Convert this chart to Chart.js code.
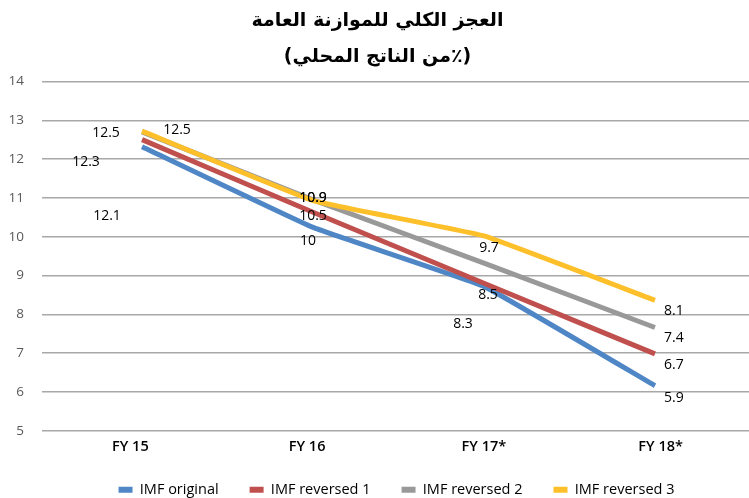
<!DOCTYPE html>
<html>
<head>
<meta charset="utf-8">
<script src="https://cdn.jsdelivr.net/npm/chart.js@4.4.1/dist/chart.umd.min.js"></script>
<style>
  html, body { margin: 0; padding: 0; background: #fff; }
  #wrap { width: 749px; height: 498px; }
</style>
</head>
<body>
<div id="wrap"><canvas id="deficit"></canvas></div>
<script>
const categories = ["FY 15", "FY 16", "FY 17*", "FY 18*"];
const seriesNames = ["IMF original", "IMF reversed 1", "IMF reversed 2", "IMF reversed 3"];

// line positions
const imfOriginal = [12.32, 10.24, 8.72, 6.16];
const imfReversed1 = [12.5, 10.63, 8.8, 6.98];
const imfReversed2 = [12.7, 10.95, 9.32, 7.66];
const imfReversed3 = [12.72, 10.93, 10.02, 8.36];

// printed value labels
const labelsOriginal = [12.1, 10, 8.3, 5.9];
const labelsReversed1 = [12.3, 10.5, 8.5, 6.7];
const labelsReversed2 = [12.5, 10.9, null, 7.4];
const labelsReversed3 = [12.5, 10.9, 9.7, 8.1];

const yTicks = [5, 6, 7, 8, 9, 10, 11, 12, 13, 14];

// small pixel nudges for the labels (x, y)
const labelNudge = [
  [[-35, 61], [-5, 4], [-21, 21], [19, 2]],
  [[-56, 15], [0, -1], [4, 0], [19, 0]],
  [[-36, -7], [0, -4], [0, 0], [19, 0]],
  [[35, -10], [0, -4], [5, 0], [19, 1]]
];

const valueLabels = {
  id: "valueLabels",
  afterLayout(chart) {
    // legend in the original sits a bit right of centre
    chart.legend.left += 38;
    // let the category labels spill below the squeezed axis box
    chart.scales.x.bottom += 20;
  },
  afterDatasetsDraw(chart) {
    const { ctx, scales: { xl, y } } = chart;
    ctx.save();
    ctx.font = "14px 'Open Sans'";
    ctx.fillStyle = "#000";
    ctx.textAlign = "center";
    ctx.textBaseline = "middle";
    chart.data.datasets.forEach((ds, i) => {
      ds.valueLabels.forEach((v, j) => {
        if (v == null) return;
        const n = labelNudge[i][j];
        ctx.fillText(String(v), xl.getPixelForValue(j) + n[0], y.getPixelForValue(v) + n[1]);
      });
    });
    ctx.restore();
  }
};

const colors = ["#4f86c6", "#c0504d", "#999999", "#fdc02a"];
const values = [imfOriginal, imfReversed1, imfReversed2, imfReversed3];
const printed = [labelsOriginal, labelsReversed1, labelsReversed2, labelsReversed3];

new Chart(document.getElementById("deficit"), {
  type: "line",
  data: {
    labels: categories,
    datasets: values.map((v, i) => ({
      label: seriesNames[i],
      data: v.map((val, j) => ({ x: j, y: val })),
      valueLabels: printed[i],
      xAxisID: "xl",
      borderColor: colors[i],
      backgroundColor: colors[i],
      borderWidth: 5,
      borderCapStyle: "butt",
      pointRadius: 0,
      tension: 0.08,
      order: 4 - i
    }))
  },
  options: {
    responsive: true,
    maintainAspectRatio: false,
    animation: false,
    layout: { padding: { left: 6, right: 0, top: 0, bottom: -9 } },
    scales: {
      x: {
        type: "category",
        offset: true,
        afterFit: (axis) => { axis.height = 20.75; },
        grid: { display: false, drawTicks: false },
        border: { display: false },
        ticks: { color: "#000", padding: 7, font: { family: "Open Sans", size: 14.5, weight: "600" } }
      },
      xl: {
        type: "linear",
        display: false,
        min: -0.585,
        max: 3.55
      },
      y: {
        min: yTicks[0],
        max: yTicks[yTicks.length - 1],
        afterBuildTicks: (axis) => { axis.ticks = yTicks.map(v => ({ value: v })); },
        afterFit: (axis) => { axis.width = 36; },
        grid: { color: "#a8a8a8", lineWidth: 1.5, drawTicks: false },
        border: { display: false },
        ticks: { color: "#595959", padding: 18, font: { family: "Open Sans", size: 13.5 } }
      }
    },
    plugins: {
      title: {
        display: true,
        text: ["العجز الكلي للموازنة العامة", "\u200F(٪من الناتج المحلي)\u200F"],
        color: "#000",
        font: { family: "DejaVu Sans", size: 19, weight: "bold", lineHeight: 1.88 },
        padding: { top: 3, bottom: 7 }
      },
      legend: {
        position: "bottom",
        labels: {
          boxWidth: 14,
          boxHeight: 6,
          padding: 31,
          color: "#000",
          font: { family: "Open Sans", size: 14.5 },
          generateLabels: (chart) =>
            Chart.defaults.plugins.legend.labels.generateLabels(chart)
              .map(item => ({ ...item, lineWidth: 0 })),
          sort: (a, b) => a.datasetIndex - b.datasetIndex
        }
      },
      tooltip: { enabled: false }
    }
  },
  plugins: [valueLabels]
});
</script>
</body>
</html>
